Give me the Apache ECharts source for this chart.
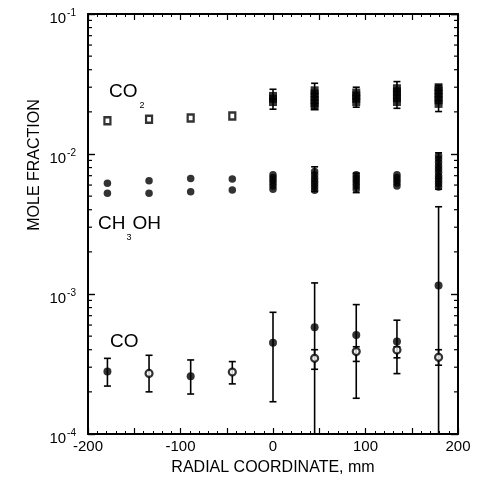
<!DOCTYPE html>
<html>
<head>
<meta charset="utf-8">
<script src="https://cdn.jsdelivr.net/npm/echarts@6/dist/echarts.min.js"></script>
<style>
html, body { margin: 0; padding: 0; background: #fff; }
#chart { width: 482px; height: 498px; }
</style>
</head>
<body>
<div id="chart"></div>
<script>
// minor log ticks (2..9 of each decade)
var yMinor = [2e-4, 3e-4, 4e-4, 5e-4, 6e-4, 7e-4, 8e-4, 9e-4,
	2e-3, 3e-3, 4e-3, 5e-3, 6e-3, 7e-3, 8e-3, 9e-3,
	2e-2, 3e-2, 4e-2, 5e-2, 6e-2, 7e-2, 8e-2, 9e-2];

// CO2
var co2Open = [[-179, 0.0173], [-134, 0.0177], [-89, 0.0181], [-44, 0.0187]];
var co2Filled = [[0, 0.0235], [0, 0.0248], [0, 0.026],
	[45, 0.0218], [45, 0.023], [45, 0.0243], [45, 0.0256], [45, 0.027], [45, 0.0285],
	[90, 0.0235], [90, 0.0248], [90, 0.0262], [90, 0.0275],
	[134, 0.0235], [134, 0.025], [134, 0.0265], [134, 0.028], [134, 0.0295],
	[179, 0.0228], [179, 0.0242], [179, 0.0256], [179, 0.027], [179, 0.0285], [179, 0.03]];
var co2Err = [[0, 0.0209, 0.029], [45, 0.0209, 0.032], [90, 0.0216, 0.03],
	[134, 0.0212, 0.0329], [179, 0.0201, 0.031]];

// CH3OH
var ch3ohPts = [[-179, 0.00618], [-179, 0.00524], [-134, 0.00645], [-134, 0.00524],
	[-89, 0.00667], [-89, 0.00538], [-44, 0.00662], [-44, 0.00553],
	[0, 0.0056], [0, 0.0059], [0, 0.0062], [0, 0.0065], [0, 0.0068], [0, 0.0071],
	[45, 0.0055], [45, 0.0058], [45, 0.0061], [45, 0.0064], [45, 0.0067], [45, 0.0071], [45, 0.0075],
	[90, 0.0056], [90, 0.0059], [90, 0.0062], [90, 0.0065], [90, 0.0068], [90, 0.0071],
	[134, 0.0059], [134, 0.0062], [134, 0.0065], [134, 0.0068], [134, 0.0071],
	[179, 0.0058], [179, 0.0061], [179, 0.0064], [179, 0.0067], [179, 0.007], [179, 0.0074],
	[179, 0.0078], [179, 0.0082], [179, 0.0087], [179, 0.0092], [179, 0.0097]];
var ch3ohErr = [[45, 0.0054, 0.0081], [90, 0.0053, 0.0073], [179, 0.0056, 0.0102]];

// CO
var coFilled = [[-179, 0.000279], [-89, 0.000258], [0, 0.000449], [45, 0.000578],
	[90, 0.000509], [134, 0.000457], [179, 0.00115]];
var coOpen = [[-134, 0.000271], [-44, 0.000277], [45, 0.000347], [90, 0.000388],
	[134, 0.000398], [179, 0.000353]];
var coErr = [[-179, 0.00022, 0.000347], [-134, 0.0002, 0.000365], [-89, 0.000193, 0.000338],
	[-44, 0.000228, 0.000329], [0, 0.00017, 0.00074], [45, 0.00005, 0.0012],
	[90, 0.00018, 0.00084], [134, 0.00027, 0.00065], [179, 0.00005, 0.0042],
	[45, 0.00029, 0.0004], [90, 0.00033, 0.00042], [134, 0.00035, 0.00042], [179, 0.00031, 0.0004]];

var FONT = 'Liberation Sans, Arial, sans-serif';

function renderErr(params, api) {
	var cs = params.coordSys;
	var hi = api.coord([api.value(0), api.value(2)]);
	var lo = api.coord([api.value(0), api.value(1)]);
	var bottom = cs.y + cs.height;
	var yTop = Math.max(hi[1], cs.y);
	var yBot = Math.min(lo[1], bottom);
	var st = { stroke: '#000', lineWidth: 1.6 };
	var kids = [{ type: 'line', shape: { x1: hi[0], y1: yTop, x2: hi[0], y2: yBot }, style: st }];
	if (lo[1] <= bottom) {
		kids.push({ type: 'line', shape: { x1: lo[0] - 3.5, y1: lo[1], x2: lo[0] + 3.5, y2: lo[1] }, style: st });
	}
	if (hi[1] >= cs.y) {
		kids.push({ type: 'line', shape: { x1: hi[0] - 3.5, y1: hi[1], x2: hi[0] + 3.5, y2: hi[1] }, style: st });
	}
	return { type: 'group', children: kids };
}

function renderMinor(params, api) {
	var cs = params.coordSys;
	var y = api.coord([0, api.value(1)])[1];
	var st = { stroke: '#000', lineWidth: 1.2 };
	return {
		type: 'group', children: [
			{ type: 'line', shape: { x1: cs.x, y1: y, x2: cs.x + 4, y2: y }, style: st },
			{ type: 'line', shape: { x1: cs.x + cs.width, y1: y, x2: cs.x + cs.width - 4, y2: y }, style: st }
		]
	};
}

var axisLine = { show: true, onZero: false, lineStyle: { color: '#000', width: 2 } };

var option = {
	backgroundColor: '#fff',
	animation: false,
	grid: { left: 88, right: 24, top: 14, bottom: 64 },
	xAxis: [{
		type: 'value', min: -200, max: 200, interval: 50,
		axisLine: axisLine,
		axisTick: { inside: true, length: 6, lineStyle: { color: '#000', width: 1.2 } },
		minorTick: { show: true, splitNumber: 5, length: 3, lineStyle: { color: '#000', width: 1 } },
		splitLine: { show: false },
		axisLabel: {
			color: '#000', fontSize: 15, fontFamily: FONT, margin: 5,
			formatter: function (v) { return v % 100 === 0 ? String(v) : ''; }
		},
		name: 'RADIAL COORDINATE, mm', nameLocation: 'middle', nameGap: 26,
		nameTextStyle: { color: '#000', fontSize: 16, fontFamily: FONT }
	}, {
		type: 'value', position: 'top', min: -200, max: 200, interval: 50,
		axisLine: axisLine,
		axisTick: { inside: true, length: 6, lineStyle: { color: '#000', width: 1.2 } },
		minorTick: { show: true, splitNumber: 5, length: 3, lineStyle: { color: '#000', width: 1 } },
		splitLine: { show: false },
		axisLabel: { show: false }
	}],
	yAxis: [{
		type: 'log', min: 1e-4, max: 1e-1, logBase: 10,
		axisLine: axisLine,
		axisTick: { inside: true, length: 7, lineStyle: { color: '#000', width: 1.4 } },
		splitLine: { show: false },
		axisLabel: {
			color: '#000', fontSize: 15, fontFamily: FONT, margin: 12, padding: [6, 0, 0, 0],
			formatter: function (v) { return '{b|10}{s|' + Math.round(Math.log10(v)) + '}'; },
			rich: {
				b: { fontSize: 15, fontFamily: FONT, color: '#000', verticalAlign: 'bottom' },
				s: { fontSize: 10, fontFamily: FONT, color: '#000', verticalAlign: 'bottom', padding: [0, 0, 8, 1] }
			}
		}
	}, {
		type: 'log', position: 'right', min: 1e-4, max: 1e-1, logBase: 10,
		axisLine: axisLine,
		axisTick: { inside: true, length: 7, lineStyle: { color: '#000', width: 1.4 } },
		splitLine: { show: false },
		axisLabel: { show: false }
	}],
	graphic: [
		{ type: 'text', x: 35, y: 165, rotation: Math.PI / 2,
			style: { text: 'MOLE FRACTION', fill: '#000', font: '16px ' + FONT, textAlign: 'center', textVerticalAlign: 'middle' } },
		{ type: 'text', x: 109, y: 82,
			style: { text: '{b|CO}{s|2}', fill: '#000', font: '19px ' + FONT,
				rich: {
					b: { fontSize: 19, fontFamily: FONT, fill: '#000', verticalAlign: 'top' },
					s: { fontSize: 9, fontFamily: FONT, fill: '#000', verticalAlign: 'top', padding: [19, 0, 0, 2] }
				} } },
		{ type: 'text', x: 98, y: 214,
			style: { text: '{b|CH}{s|3}{b|OH}', fill: '#000', font: '19px ' + FONT,
				rich: {
					b: { fontSize: 19, fontFamily: FONT, fill: '#000', verticalAlign: 'top' },
					s: { fontSize: 9, fontFamily: FONT, fill: '#000', verticalAlign: 'top', padding: [19, 1, 0, 1] }
				} } },
		{ type: 'text', x: 110, y: 332,
			style: { text: 'CO', fill: '#000', font: '19px ' + FONT } }
	],
	series: [
		{ type: 'custom', renderItem: renderMinor, data: yMinor.map(function (v) { return [0, v]; }), silent: true, z: 1 },
		{ type: 'custom', renderItem: renderErr, data: co2Err, encode: { x: 0, y: [1, 2] }, silent: true, z: 2 },
		{ type: 'custom', renderItem: renderErr, data: ch3ohErr, encode: { x: 0, y: [1, 2] }, silent: true, z: 2 },
		{ type: 'custom', renderItem: renderErr, data: coErr, encode: { x: 0, y: [1, 2] }, silent: true, z: 2 },
		{ name: 'CO2 open', type: 'scatter', data: co2Open, symbol: 'rect', symbolSize: [6, 7], z: 3,
			itemStyle: { color: '#fff', borderColor: '#000', borderWidth: 2.4 } },
		{ name: 'CO2', type: 'scatter', data: co2Filled, symbol: 'rect', symbolSize: [8, 8], z: 3,
			itemStyle: { color: '#000' } },
		{ name: 'CH3OH', type: 'scatter', data: ch3ohPts, symbol: 'circle', symbolSize: 7.5, z: 3,
			itemStyle: { color: '#000' } },
		{ name: 'CO', type: 'scatter', data: coFilled, symbol: 'circle', symbolSize: 8, z: 3,
			itemStyle: { color: '#000' } },
		{ name: 'CO open', type: 'scatter', data: coOpen, symbol: 'circle', symbolSize: 7, z: 3,
			itemStyle: { color: '#fff', borderColor: '#000', borderWidth: 2.2 } }
	]
};

var myChart = echarts.init(document.getElementById('chart'));
myChart.setOption(option, true);
</script>
</body>
</html>
